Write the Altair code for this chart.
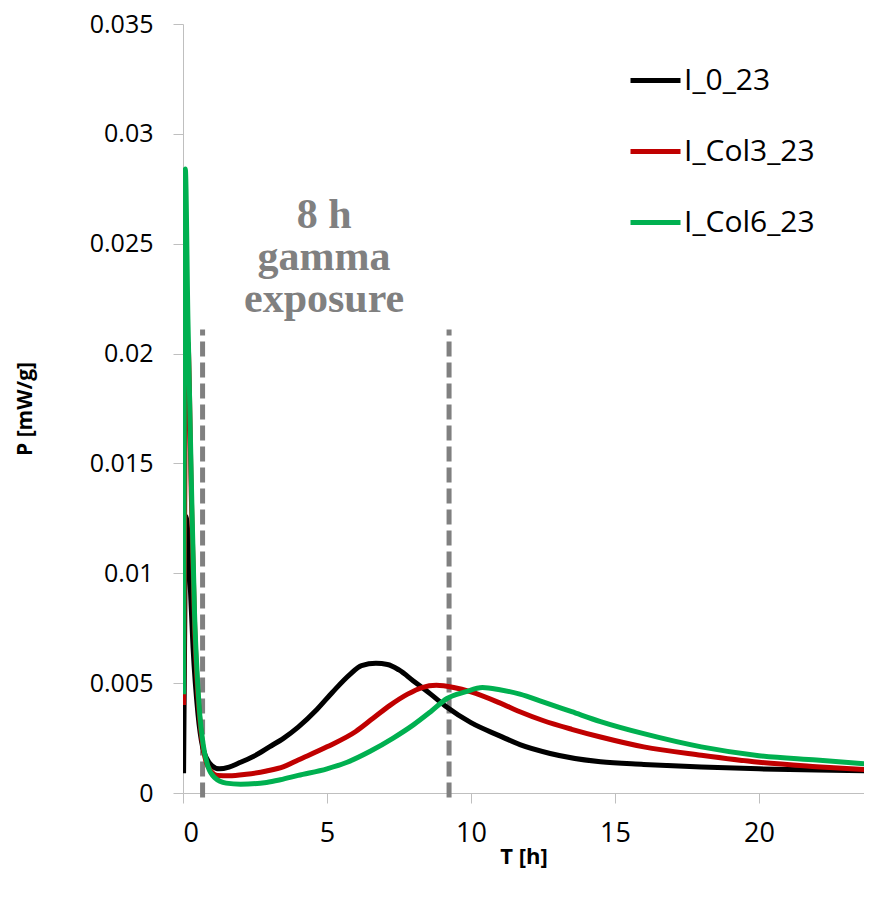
import altair as alt
import pandas as pd

series_names = ["I_0_23", "I_Col3_23", "I_Col6_23"]
series_colors = ["#000000", "#C00000", "#00B050"]

t_black = [0.02, 0.05, 0.1, 0.17, 0.25, 0.35, 0.52, 0.68, 0.81, 1.0, 1.26, 1.6, 2.0, 2.5, 3.0, 3.5,
           4.0, 4.65, 5.2, 5.8, 6.2, 6.7, 7.1, 7.5, 8.0, 8.6, 9.17, 10.0, 11.0, 11.7, 12.75, 14.5,
           16.0, 18.0, 20.0, 22.0, 24.0]
p_black = [0.0009, 0.0060, 0.0126, 0.0118, 0.0095, 0.0066, 0.0036, 0.0021, 0.0016, 0.00125, 0.0011,
           0.00118, 0.0014, 0.0017, 0.0021, 0.0025, 0.0030, 0.0038, 0.0046, 0.0054, 0.0058, 0.0059,
           0.00585, 0.0056, 0.0051, 0.0045, 0.0039, 0.0032, 0.0026, 0.0022, 0.0018, 0.00142,
           0.0013, 0.00118, 0.0011, 0.00105, 0.001]

t_red = [0.02, 0.08, 0.17, 0.29, 0.4, 0.58, 0.87, 1.2, 1.6, 2.2, 2.9, 3.5, 4.0, 5.0, 6.0, 6.6, 7.2,
         7.8, 8.3, 8.8, 9.4, 10.0, 11.0, 11.7, 12.5, 13.5, 14.5, 16.0, 18.0, 20.0, 22.0, 24.0]
p_red = [0.004, 0.018, 0.0205, 0.0135, 0.0078, 0.0034, 0.0012, 0.0008, 0.00078, 0.00085, 0.001,
         0.0012, 0.0015, 0.0021, 0.0028, 0.0034, 0.0040, 0.0045, 0.0048, 0.0049, 0.0048, 0.0046,
         0.0041, 0.0037, 0.0033, 0.0029, 0.00255, 0.0021, 0.00172, 0.0014, 0.0012, 0.00104]

t_green = [0.02, 0.08, 0.17, 0.29, 0.4, 0.5, 0.58, 0.7, 0.87, 1.1, 1.5, 2.0, 2.9, 3.38, 4.0, 5.0,
           5.7, 6.5, 7.3, 8.0, 8.6, 9.17, 9.8, 10.4, 11.0, 11.7, 12.5, 13.5, 14.5, 16.0, 18.0,
           20.0, 22.0, 24.0]
p_green = [0.0045, 0.0284, 0.0216, 0.0142, 0.0082, 0.0052, 0.0036, 0.0022, 0.0012, 0.0007, 0.00045,
           0.0004, 0.00048, 0.0006, 0.0008, 0.0011, 0.0014, 0.0019, 0.0025, 0.0031, 0.0037, 0.0043,
           0.0046, 0.0048, 0.0047, 0.0045, 0.00415, 0.0037, 0.00325, 0.0027, 0.0021, 0.0017,
           0.0015, 0.0013]

exposure_t = [0.68, 9.24]
exposure_top = 0.0211
note_lines = ["8 h", "gamma", "exposure"]
note_t = [4.9, 4.9, 4.9]
note_p = [0.0257, 0.0238, 0.0219]

x_ticks = [0, 5, 10, 15, 20]
y_ticks = [0, 0.005, 0.01, 0.015, 0.02, 0.025, 0.03, 0.035]

rows = []
for name, ts, ps in zip(series_names, [t_black, t_red, t_green], [p_black, p_red, p_green]):
    for i, (t, p) in enumerate(zip(ts, ps)):
        rows.append({"series": name, "T": t, "P": p, "order": i})
df = pd.DataFrame(rows)

df_rules = pd.DataFrame({"T": exposure_t, "top": [exposure_top] * 2, "bottom": [-0.0002] * 2})
df_note = pd.DataFrame({"T": note_t, "P": note_p, "label": note_lines})

x_scale = alt.Scale(domain=[0, 23.65], nice=False, zero=False)
y_scale = alt.Scale(domain=[0, 0.035], nice=False)

x_axis = alt.Axis(values=x_ticks, grid=False, domainColor="#bfbfbf", tickColor="#bfbfbf",
                  tickSize=10, labelFont="Open Sans", labelFontSize=27, labelColor="#000000",
                  labelPadding=17, title="T [h]", titleFont="Open Sans", titleFontSize=22,
                  titleFontWeight="bold", titleColor="#000000", titlePadding=0)
y_axis = alt.Axis(values=y_ticks, format="~g", grid=False, domainColor="#bfbfbf",
                  tickColor="#bfbfbf", tickSize=10, labelFont="Open Sans", labelFontSize=25,
                  labelColor="#000000", labelPadding=20, title="P [mW/g]", titleFont="Open Sans",
                  titleFontSize=21, titleFontWeight="bold", titleColor="#000000", titlePadding=54)

lines = alt.Chart(df).mark_line(strokeWidth=5, interpolate="monotone", clip=True).encode(
    x=alt.X("T:Q", scale=x_scale, axis=x_axis),
    y=alt.Y("P:Q", scale=y_scale, axis=y_axis),
    color=alt.Color("series:N", scale=alt.Scale(domain=series_names, range=series_colors),
                    sort=series_names,
                    legend=alt.Legend(title=None, orient="none", legendX=445, legendY=29,
                                      symbolType="stroke", symbolSize=2500, symbolStrokeWidth=5,
                                      labelFont="Open Sans", labelFontSize=30, labelColor="#000000",
                                      labelOffset=1, rowPadding=28, labelLimit=300)),
    order="order:Q",
)

rules = alt.Chart(df_rules).mark_rule(color="#808080", strokeWidth=5, strokeDash=[15, 6]).encode(
    x=alt.X("T:Q", scale=x_scale),
    y=alt.Y("bottom:Q", scale=y_scale),
    y2="top:Q",
)

note = alt.Chart(df_note).mark_text(font="Liberation Serif", fontSize=42, fontWeight="bold",
                                    color="#808080", align="center", baseline="alphabetic").encode(
    x=alt.X("T:Q", scale=x_scale),
    y=alt.Y("P:Q", scale=y_scale),
    text="label:N",
)

chart = alt.layer(rules, lines, note).properties(
    width=681, height=769,
    autosize=alt.AutoSizeParams(type="none"),
    padding={"left": 175, "top": 16, "right": 0, "bottom": 100},
).configure_view(stroke=None)

chart.save("out.html", embed_options={"renderer": "svg", "actions": False})
